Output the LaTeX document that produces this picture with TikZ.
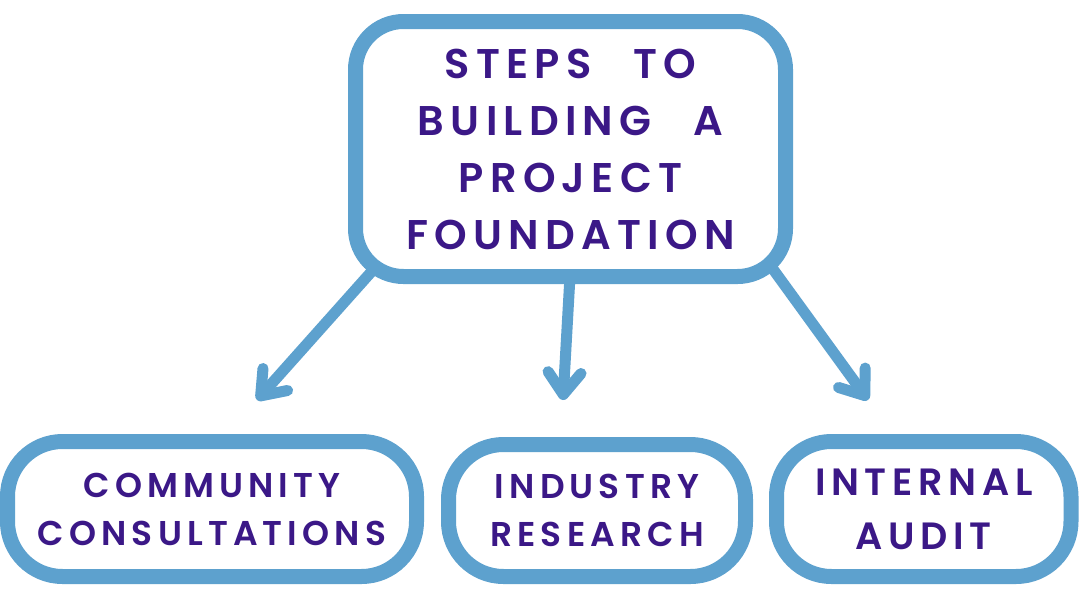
\documentclass[tikz,border=0pt]{standalone}
\usepackage{fontspec}
\setmainfont{Poppins}
\newfontfamily\popA{Poppins}[LetterSpace=15, WordSpace=2.6, BoldFont={* SemiBold}]
\usetikzlibrary{arrows.meta}
\definecolor{boxblue}{RGB}{93,161,206}
\definecolor{txtpurple}{RGB}{59,24,135}
\tikzset{
  box/.style={draw=boxblue, line width=15pt, fill=white, align=center,
    text=txtpurple, inner sep=0pt},
  topfont/.style={font=\popA\bfseries\fontsize{41.5}{57}\selectfont},
  lowfont/.style={font=\popA\bfseries\fontsize{34.4}{48}\selectfont},
  bigfont/.style={font=\popA\bfseries\fontsize{38}{54}\selectfont},
  conn/.style={draw=boxblue, line width=11pt,
    -{Straight Barb[length=22pt,width=33pt,round]}},
}
\begin{document}
\begin{tikzpicture}[x=1pt,y=-1pt]
\useasboundingbox (0,0) rectangle (1080,598);
\fill[white] (0,0) rectangle (1080,598);
% connector end points
\coordinate (sL) at (377,265.5);
\coordinate (tL) at (257,400);
\coordinate (sM) at (570,276);
\coordinate (tM) at (563,400);
\coordinate (sR) at (766,259.5);
\coordinate (tR) at (868,400);
\draw[conn] (sL) -- (tL);
\draw[conn] (sM) -- (tM);
\draw[conn] (sR) -- (tR);
% boxes
\node[box, topfont, minimum width=430pt, minimum height=255pt, rounded corners=48pt]
  (top) at (570.5,149) {STEPS TO\\BUILDING A\\PROJECT\\FOUNDATION};
\node[box, lowfont, minimum width=409pt, minimum height=135pt, rounded corners=55pt]
  (comm) at (212,509) {COMMUNITY\\CONSULTATIONS};
\node[box, lowfont, minimum width=297pt, minimum height=132pt, rounded corners=55pt]
  (ind) at (597,510.5) {INDUSTRY\\RESEARCH};
\node[box, bigfont, minimum width=294.5pt, minimum height=135pt, rounded corners=55pt]
  (aud) at (923.75,509) {INTERNAL\\AUDIT};
\end{tikzpicture}
\end{document}
